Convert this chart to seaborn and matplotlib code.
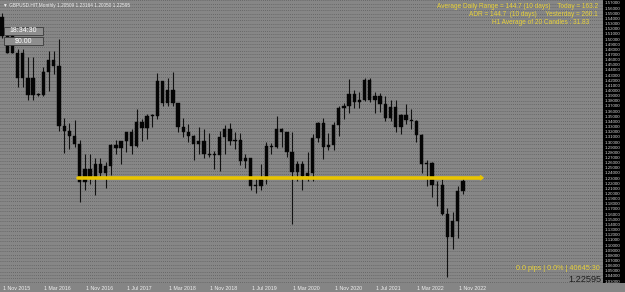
import numpy as np
import pandas as pd
import matplotlib
matplotlib.use("Agg")
import matplotlib.pyplot as plt
import seaborn as sns

# ---------------- data (monthly OHLC) ----------------
opens = [1.5434, 1.5067, 1.5067, 1.4737, 1.4737, 1.4245, 1.4245, 1.3924,
         1.3924, 1.4366, 1.4599, 1.4486, 1.3312, 1.3224, 1.3133, 1.2972,
         1.2232, 1.2477, 1.2340, 1.2577, 1.2417, 1.2551, 1.2944, 1.2885,
         1.3025, 1.3203, 1.2930, 1.3400, 1.3283, 1.3520, 1.3513, 1.4190,
         1.3774, 1.4020, 1.3768, 1.3300, 1.3206, 1.3120, 1.2963, 1.3033,
         1.2772, 1.2751, 1.2754, 1.3114, 1.3258, 1.3030, 1.3041, 1.2633,
         1.2697, 1.2157, 1.2159, 1.2293, 1.2940, 1.2910, 1.3260, 1.3206,
         1.2823, 1.2420, 1.2589, 1.2345, 1.2400, 1.3093, 1.3373, 1.2915,
         1.2949, 1.3331, 1.3670, 1.3706, 1.3934, 1.3785, 1.3825, 1.4213,
         1.3831, 1.3905, 1.3755, 1.3478, 1.3683, 1.3301, 1.3532, 1.3442,
         1.3414, 1.3138, 1.2574, 1.2594, 1.2170, 1.2166, 1.1620, 1.1169,
         1.1468, 1.2051]
highs = [1.5508, 1.5240, 1.5240, 1.4815, 1.4815, 1.4668, 1.4668, 1.3960,
         1.4459, 1.4770, 1.4769, 1.5018, 1.3481, 1.3373, 1.3445, 1.3058,
         1.2775, 1.2775, 1.2706, 1.2706, 1.2615, 1.2965, 1.3048, 1.3030,
         1.3213, 1.3268, 1.3657, 1.3450, 1.3549, 1.3550, 1.4345, 1.4200,
         1.4245, 1.4377, 1.3770, 1.3472, 1.3363, 1.3145, 1.3298, 1.3258,
         1.3176, 1.2839, 1.3215, 1.3350, 1.3382, 1.3196, 1.3176, 1.2784,
         1.2708, 1.2310, 1.2583, 1.3013, 1.2985, 1.3515, 1.3285, 1.3210,
         1.3200, 1.2648, 1.2647, 1.2813, 1.3170, 1.3394, 1.3482, 1.3177,
         1.3399, 1.3704, 1.3758, 1.4241, 1.4017, 1.3978, 1.4250, 1.4249,
         1.3984, 1.3958, 1.3913, 1.3834, 1.3834, 1.3546, 1.3749, 1.3644,
         1.3438, 1.3167, 1.2666, 1.2617, 1.2247, 1.2293, 1.1738, 1.1645,
         1.2154, 1.2316]
lows = [1.5027, 1.4736, 1.4736, 1.4080, 1.4080, 1.3835, 1.3835, 1.3900,
        1.3900, 1.4005, 1.4331, 1.3229, 1.2798, 1.2866, 1.2916, 1.1841,
        1.2084, 1.2200, 1.1986, 1.2346, 1.2109, 1.2365, 1.2775, 1.2589,
        1.2812, 1.2774, 1.2908, 1.3027, 1.3061, 1.3303, 1.3460, 1.3711,
        1.3712, 1.3713, 1.3204, 1.3103, 1.3010, 1.2662, 1.2785, 1.2696,
        1.2723, 1.2477, 1.2438, 1.2773, 1.2960, 1.2866, 1.2560, 1.2506,
        1.2083, 1.2015, 1.2070, 1.2196, 1.2768, 1.2903, 1.2905, 1.2725,
        1.1409, 1.2245, 1.2075, 1.2252, 1.2252, 1.3006, 1.2676, 1.2855,
        1.2854, 1.3134, 1.3452, 1.3566, 1.3669, 1.3669, 1.3800, 1.3787,
        1.3572, 1.3602, 1.3412, 1.3412, 1.3195, 1.3160, 1.3358, 1.3272,
        1.3002, 1.2411, 1.2155, 1.1934, 1.1760, 1.1600, 1.0384, 1.0924,
        1.1143, 1.2005]
closes = [1.5067, 1.4737, 1.4737, 1.4245, 1.4245, 1.3924, 1.3924, 1.3935,
          1.4366, 1.4599, 1.4486, 1.3312, 1.3224, 1.3133, 1.2972, 1.2232,
          1.2477, 1.2340, 1.2577, 1.2417, 1.2551, 1.2944, 1.2885, 1.3025,
          1.3203, 1.2930, 1.3400, 1.3283, 1.3520, 1.3513, 1.4190, 1.3774,
          1.4020, 1.3768, 1.3300, 1.3206, 1.3120, 1.2963, 1.3033, 1.2772,
          1.2751, 1.2754, 1.3114, 1.3258, 1.3030, 1.3041, 1.2633, 1.2697,
          1.2157, 1.2159, 1.2293, 1.2940, 1.2910, 1.3260, 1.3206, 1.2823,
          1.2420, 1.2589, 1.2345, 1.2400, 1.3093, 1.3373, 1.2915, 1.2949,
          1.3331, 1.3670, 1.3706, 1.3934, 1.3785, 1.3825, 1.4213, 1.3831,
          1.3905, 1.3755, 1.3478, 1.3683, 1.3301, 1.3532, 1.3442, 1.3414,
          1.3138, 1.2574, 1.2594, 1.2170, 1.2166, 1.1620, 1.1169, 1.1468,
          1.2051, 1.2260]
date_labels = ["1 Nov 2015", "1 Mar 2016", "1 Nov 2016", "1 Jul 2017",
               "1 Mar 2018", "1 Nov 2018", "1 Jul 2019", "1 Mar 2020",
               "1 Nov 2020", "1 Jul 2021", "1 Mar 2022", "1 Nov 2022"]
price_labels = [f"{v:.5f}" for v in np.round(np.arange(1.57, 1.025, -0.01), 2)]
line_level = 1.2316
line_start, line_end = 14.7, 92.5

df = pd.DataFrame({"bar": np.arange(len(opens)), "open": opens,
                   "high": highs, "low": lows, "close": closes})

# ---------------- figure ----------------
W, H = 625, 292
sns.set_style("dark")
plt.rcParams["font.family"] = ["Liberation Sans", "DejaVu Sans"]
fig = plt.figure(figsize=(W / 100, H / 100), dpi=100)
fig.patch.set_facecolor("#858585")

plot_bottom = 283
ax = fig.add_axes([0, (H - plot_bottom) / H, 603 / W, plot_bottom / H])
ax.set_facecolor("#868686")
px_per_bar = 5.18
ax.set_xlim(-2 / px_per_bar, 601 / px_per_bar)
y_top = 1.4486 + 66 / 515
ax.set_ylim(y_top - plot_bottom / 515, y_top)
for s in ax.spines.values():
    s.set_visible(False)
ax.set_xticks([])
ax.set_yticks([])
ax.grid(False)

# dotted grid
for lv in np.arange(1.03, 1.58, 0.0065):
    ax.axhline(lv, color="#5e5e5e", lw=0.6, ls=(0, (1, 1.5)), zorder=0)

# wicks
ax.vlines(df["bar"], df["low"], df["high"], color="#111111", lw=0.8, zorder=2)
# bodies
body_lo = df[["open", "close"]].min(axis=1)
body_h = (df["close"] - df["open"]).abs().clip(lower=0.0018)
ax.bar(df["bar"], body_h, bottom=body_lo, width=0.64, color="#050505",
       edgecolor="#050505", linewidth=0.3, zorder=3)

# yellow horizontal line
hl = pd.DataFrame({"x": [line_start, line_end], "y": [line_level, line_level]})
sns.lineplot(data=hl, x="x", y="y", ax=ax, color="#e8c400", lw=2.6, zorder=4)
ax.set_xlabel("")
ax.set_ylabel("")
ax.plot([line_end - 0.15, line_end + 0.35], [line_level + 0.004, line_level],
        color="#e8c400", lw=1.0, zorder=4)
ax.plot([line_end - 0.15, line_end + 0.35], [line_level - 0.004, line_level],
        color="#e8c400", lw=1.0, zorder=4)

# price axis strip
axr = fig.add_axes([603 / W, (H - plot_bottom) / H, 22 / W, plot_bottom / H])
axr.set_facecolor("black")
axr.set_xlim(0, 1)
axr.set_ylim(ax.get_ylim())
axr.set_xticks([])
axr.set_yticks([])
for s in axr.spines.values():
    s.set_visible(False)
for lab in price_labels:
    axr.text(0.06, float(lab), lab, color="#d8d8d8", fontsize=3.2,
             va="center", ha="left")

# date labels
for k, lab in enumerate(date_labels):
    xpix = 2 + k * 8 * px_per_bar
    fig.text((xpix + 1) / W, 1 - 288 / H, lab, color="#f0f0f0", fontsize=3.8,
             ha="left", va="center")

def ftext(x, y, s, **kw):
    fig.text(x / W, 1 - y / H, s, **kw)

# title
ftext(3, 5, "\u25BC GBPUSD.HIT,Monthly 1.20509 1.23164 1.20050 1.22595",
      color="#f0f0f0", fontsize=3.4, ha="left", va="center")

# info boxes
for (y0, s) in [(26.5, "18:34:30"), (36.5, "$0.00")]:
    rect = plt.Rectangle((4 / W, 1 - (y0 + 8.5) / H), 39 / W, 8.5 / H,
                         transform=fig.transFigure, facecolor="#8e8e8e",
                         edgecolor="#3a3a3a", lw=0.6, zorder=5)
    fig.patches.append(rect)
    ftext(23.5, y0 + 4.4, s, color="white", fontsize=5, ha="center",
          va="center", zorder=6)

yel = "#e9d23a"
ftext(598, 6, "Average Daily Range = 144.7 (10 days)    Today = 163.2",
      color=yel, fontsize=4.7, ha="right", va="center")
ftext(598, 15, "ADR = 144.7  (10 days)     Yesterday = 260.1",
      color=yel, fontsize=4.7, ha="right", va="center")
ftext(589, 23, "H1 Average of 20 Candles : 31.83",
      color=yel, fontsize=4.7, ha="right", va="center")
ftext(600, 268, "0.0 pips | 0.0% | 40645:30",
      color=yel, fontsize=5.2, ha="right", va="center")
ftext(601, 279, "1.22595", color="#1e1e1e", fontsize=6.6, ha="right",
      va="center")

fig.savefig("out.png", dpi=100, facecolor=fig.get_facecolor())
